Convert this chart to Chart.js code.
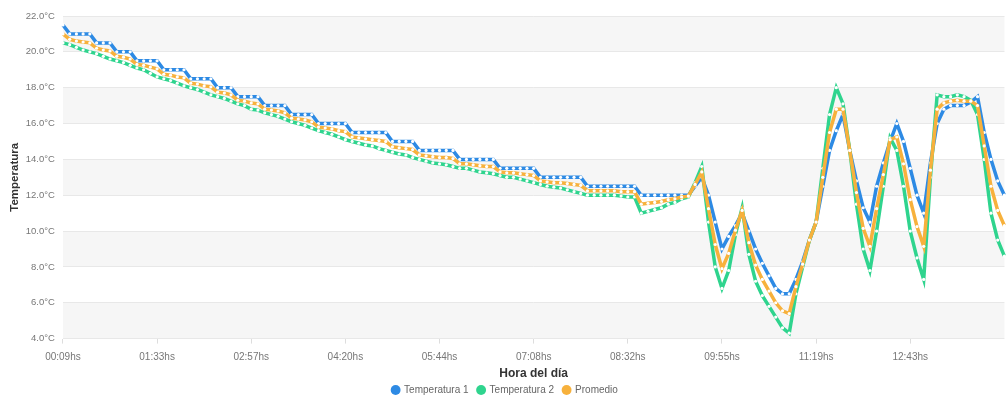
<!DOCTYPE html>
<html>
<head>
<meta charset="utf-8">
<script src="https://cdn.jsdelivr.net/npm/chart.js@4"></script>
<style>
html,body{margin:0;padding:0;background:#fff;overflow:hidden}
#wrap{width:1006px;height:401px;position:relative}
</style>
</head>
<body>
<div id="wrap"><canvas id="c"></canvas></div>
<script>
const horas = [
'00:09','00:15','00:21','00:27','00:33','00:39','00:45','00:51','00:57','01:03','01:09','01:15','01:21','01:27',
'01:33','01:39','01:45','01:51','01:57','02:03','02:09','02:15','02:21','02:27','02:33','02:39','02:45','02:51',
'02:57','03:03','03:09','03:15','03:21','03:27','03:33','03:39','03:45','03:51','03:57','04:03','04:09','04:14',
'04:20','04:26','04:32','04:38','04:44','04:50','04:56','05:02','05:08','05:14','05:20','05:26','05:32','05:38',
'05:44','05:50','05:56','06:02','06:08','06:14','06:20','06:26','06:32','06:38','06:44','06:50','06:56','07:02',
'07:08','07:14','07:20','07:26','07:32','07:38','07:44','07:50','07:56','08:02','08:08','08:14','08:20','08:26',
'08:32','08:38','08:44','08:50','08:56','09:02','09:08','09:14','09:20','09:26','09:32','09:38','09:44','09:49',
'09:55','10:01','10:07','10:13','10:19','10:25','10:31','10:37','10:43','10:49','10:55','11:01','11:07','11:13',
'11:19','11:25','11:31','11:37','11:43','11:49','11:55','12:01','12:07','12:13','12:19','12:25','12:31','12:37',
'12:43','12:49','12:55','13:01','13:07','13:13','13:19','13:25','13:31','13:37','13:43','13:49','13:55','14:01',
'14:07'];

const temperatura1 = [
21.5,21.0,21.0,21.0,21.0,20.5,20.5,20.5,20.0,20.0,20.0,19.5,19.5,19.5,
19.5,19.0,19.0,19.0,19.0,18.5,18.5,18.5,18.5,18.0,18.0,18.0,17.5,17.5,
17.5,17.5,17.0,17.0,17.0,17.0,16.5,16.5,16.5,16.5,16.0,16.0,16.0,16.0,
16.0,15.5,15.5,15.5,15.5,15.5,15.5,15.0,15.0,15.0,15.0,14.5,14.5,14.5,
14.5,14.5,14.5,14.0,14.0,14.0,14.0,14.0,14.0,13.5,13.5,13.5,13.5,13.5,
13.5,13.0,13.0,13.0,13.0,13.0,13.0,13.0,12.5,12.5,12.5,12.5,12.5,12.5,
12.5,12.5,12.0,12.0,12.0,12.0,12.0,12.0,12.0,12.0,12.5,13.0,12.0,10.5,
9.0,9.7,10.3,11.0,10.0,9.0,8.2,7.5,6.8,6.5,6.5,7.3,8.3,9.5,
10.5,12.5,14.5,15.6,16.5,14.5,12.8,11.3,10.5,12.5,13.8,15.0,16.0,15.0,
13.5,12.0,11.0,13.8,16.0,16.8,17.0,17.0,17.0,17.2,17.5,15.5,14.0,12.8,
12.0];

const temperatura2 = [
20.5,20.4,20.25,20.1,20.0,19.9,19.75,19.6,19.5,19.4,19.25,19.1,19.0,18.8,
18.6,18.5,18.4,18.25,18.1,18.0,17.9,17.75,17.6,17.5,17.4,17.25,17.1,17.0,
16.8,16.75,16.6,16.5,16.4,16.25,16.1,16.0,15.9,15.75,15.6,15.5,15.4,15.25,
15.1,15.0,14.9,14.8,14.75,14.6,14.5,14.4,14.3,14.25,14.1,14.0,13.9,13.8,
13.75,13.7,13.6,13.5,13.5,13.4,13.3,13.25,13.2,13.1,13.0,13.0,12.9,12.8,
12.7,12.6,12.5,12.45,12.4,12.3,12.2,12.1,12.0,12.0,12.0,12.0,12.0,11.95,
11.9,11.9,11.0,11.1,11.2,11.3,11.5,11.6,11.8,11.9,12.7,13.6,10.5,8.0,
6.8,7.8,9.8,11.3,8.7,7.2,6.4,5.8,5.2,4.6,4.3,6.5,8.0,9.5,
10.5,13.5,16.5,18.0,17.1,14.5,11.5,9.0,7.8,10.0,12.5,15.2,14.5,12.5,
10.0,8.5,7.3,13.0,17.6,17.5,17.5,17.6,17.5,17.3,16.5,14.0,11.0,9.5,
8.6];

const promedio = [
21.0,20.7,20.6,20.55,20.5,20.2,20.1,20.05,19.75,19.7,19.6,19.3,19.25,19.15,
19.05,18.75,18.7,18.6,18.55,18.25,18.2,18.1,18.05,17.75,17.7,17.6,17.3,17.25,
17.15,17.1,16.8,16.75,16.7,16.6,16.3,16.25,16.2,16.1,15.8,15.75,15.7,15.6,
15.55,15.25,15.2,15.15,15.1,15.05,15.0,14.7,14.65,14.6,14.55,14.25,14.2,14.15,
14.1,14.1,14.05,13.75,13.75,13.7,13.65,13.6,13.6,13.3,13.25,13.25,13.2,13.15,
13.1,12.8,12.75,12.7,12.7,12.65,12.6,12.55,12.25,12.25,12.25,12.25,12.25,12.2,
12.2,12.2,11.5,11.55,11.6,11.65,11.75,11.8,11.9,11.95,12.6,13.3,11.25,9.25,
7.9,8.75,10.05,11.15,9.35,8.1,7.3,6.65,6.0,5.55,5.4,6.9,8.15,9.5,
10.5,13.0,15.5,16.8,16.8,14.5,12.15,10.15,9.15,11.25,13.15,15.1,15.25,13.75,
11.75,10.25,9.15,13.4,16.8,17.15,17.25,17.3,17.25,17.25,17.0,14.75,12.5,11.15,
10.3];

const seriesNames = ['Temperatura 1', 'Temperatura 2', 'Promedio'];
const yMin = 4, yMax = 22, yStep = 2;
const labelEvery = 14;

const labels = horas.map(h => h + 'hs');

const colors = ['#2d8ae4', '#2fd48e', '#f7b13c'];

const bandsPlugin = {
  id: 'bands',
  beforeDraw(chart) {
    const {ctx, chartArea: a, scales: {y}} = chart;
    ctx.save();
    ctx.fillStyle = '#ffffff';
    ctx.fillRect(0, 0, chart.width, chart.height);
    ctx.fillStyle = '#f6f6f6';
    const t = y.ticks;
    for (let i = 0; i < t.length - 1; i += 2) {
      const top = y.getPixelForValue(t[i + 1].value);
      const bot = y.getPixelForValue(t[i].value);
      ctx.fillRect(a.left, top, a.right - a.left, bot - top);
    }
    ctx.restore();
  }
};

function ds(name, data, color, order) {
  return {
    label: name, data, borderColor: color, backgroundColor: color,
    borderWidth: 3.5, tension: 0, order,
    pointRadius: 1.6, pointBorderWidth: 0, pointBackgroundColor: '#ffffff',
    pointHoverRadius: 0
  };
}

Chart.defaults.font.family = "'Liberation Sans', Arial, sans-serif";
Chart.defaults.color = '#777';

new Chart(document.getElementById('c'), {
  type: 'line',
  data: {
    labels,
    datasets: [
      ds(seriesNames[0], temperatura1, colors[0], 2),
      ds(seriesNames[1], temperatura2, colors[1], 1),
      ds(seriesNames[2], promedio, colors[2], 0)
    ]
  },
  plugins: [bandsPlugin],
  options: {
    responsive: true, maintainAspectRatio: false, animation: false,
    layout: {padding: {top: 16, left: 4, right: 0, bottom: -4}},
    plugins: {
      tooltip: {enabled: false},
      legend: {
        position: 'bottom',
        labels: {
          usePointStyle: true, pointStyle: 'circle', boxWidth: 7, boxHeight: 7,
          padding: 9, font: {size: 10}, color: '#666',
          sort: (a, b) => a.datasetIndex - b.datasetIndex,
          generateLabels(chart) {
            const items = Chart.defaults.plugins.legend.labels.generateLabels(chart);
            items.forEach(it => {
              const c = chart.data.datasets[it.datasetIndex].borderColor;
              it.fillStyle = c; it.strokeStyle = c; it.lineWidth = 0;
            });
            return items;
          }
        }
      }
    },
    scales: {
      x: {
        grid: {drawOnChartArea: false, tickLength: 5, color: '#dddddd'},
        border: {display: false},
        ticks: {
          autoSkip: false, maxRotation: 0, font: {size: 10}, color: '#777', padding: 8,
          callback(v, i) { return (i % labelEvery === 0 && i < labels.length - 1) ? this.getLabelForValue(v) : null; }
        },
        title: {display: true, text: 'Hora del día', font: {size: 12, weight: 'bold'}, color: '#333', padding: {top: -5, bottom: -5}}
      },
      y: {
        min: yMin, max: yMax,
        ticks: {stepSize: yStep, callback: v => v.toFixed(1) + '°C', font: {size: 9.5}, color: '#777', padding: 8},
        grid: {color: '#e8e8e8', drawTicks: false},
        border: {display: false},
        title: {display: true, text: 'Temperatura', font: {size: 11.5, weight: 'bold'}, color: '#333', padding: {top: 4, bottom: -4}}
      }
    }
  }
});
</script>
</body>
</html>
